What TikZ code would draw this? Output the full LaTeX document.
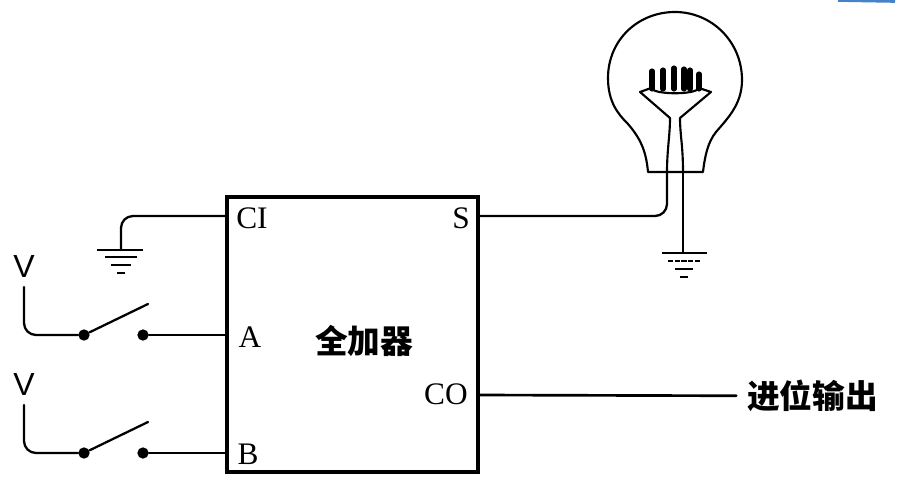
\documentclass[tikz,border=0pt]{standalone}
\usepackage{fontspec}
\setmainfont{Liberation Serif}
\setsansfont{Liberation Sans}
\newfontfamily\cjk{Noto Sans CJK SC}
\usetikzlibrary{positioning}
\definecolor{scanblue}{rgb}{0.27,0.51,0.78}
\tikzset{
  wire/.style={line width=1.7pt,line cap=round},
  thinwire/.style={line width=1.6pt,line cap=round,line join=round},
  rwire/.style={wire,rounded corners=9pt},
  gndbar/.style={line width=1.4pt},
  contact/.style={circle,fill=black,inner sep=0pt,minimum size=8.5pt},
  pinlabel/.style={font=\fontsize{23.5}{24}\selectfont,inner sep=0pt},
  vlabel/.style={font=\sffamily\fontsize{24}{24}\selectfont,inner sep=0pt},
  cjklabel/.style={font=\cjk\bfseries\fontsize{24.5}{25}\selectfont,inner sep=0pt}
}
\begin{document}
\begin{tikzpicture}[x=0.75pt,y=0.75pt,yscale=-1,xscale=1]
\useasboundingbox (0,0) rectangle (913,499);

%Box
\node (adder) [draw,line width=2.3pt,minimum width=188.25pt,minimum height=206.25pt] at (352.5,334.5) {};
\node (adderlabel) [cjklabel] at (364,341) {全加器};

%Pins
\coordinate (pinCI) at (227,216);
\coordinate (pinA) at (227,335);
\coordinate (pinB) at (227,453);
\coordinate (pinS) at (478,216);
\coordinate (pinCO) at (478,395);
\node (labelCI) [pinlabel] at (252,218) {CI};
\node (labelA) [pinlabel] at (250,337) {A};
\node (labelB) [pinlabel] at (248,454) {B};
\node (labelS) [pinlabel] at (461,218) {S};
\node (labelCO) [pinlabel] at (446,394) {CO};

%Switch A
\node (voltA) [vlabel] at (24,266.5) {V};
\coordinate (feedA) at (24,287);
\node (swAl) [contact] at (84,335) {};
\node (swAr) [contact] at (143,335) {};
\coordinate (armA) at (148,304);
\draw [rwire] (feedA) |- (swAl);
\draw [wire] (swAl) -- (armA);
\draw [wire] (swAr) -- (pinA);

%Switch B
\node (voltB) [vlabel] at (24,384.5) {V};
\coordinate (feedB) at (24,405);
\node (swBl) [contact] at (84,453) {};
\node (swBr) [contact] at (143,453) {};
\coordinate (armB) at (148,422);
\draw [rwire] (feedB) |- (swBl);
\draw [wire] (swBl) -- (armB);
\draw [wire] (swBr) -- (pinB);

%Ground of CI
\coordinate (gndA) at (121,250);
\draw [rwire] (pinCI) -| (gndA);
\draw [gndbar] (97,250) -- (143,250);
\draw [gndbar] (105,257) -- (137,257);
\draw [gndbar] (111,265) -- (131,265);
\draw [gndbar] (117,273) -- (125,273);

%Lamp glass
\draw [thinwire] (648,172) .. controls (646,150) and (640,138) .. (628,124) .. controls (618,114) and (608,102) .. (608,78) .. controls (608,40) and (638,12) .. (675,12) .. controls (712,12) and (742,42) .. (742,80) .. controls (742,104) and (728,118) .. (716,132) .. controls (708,142) and (705,155) .. (703,172) -- cycle;

%Lamp filament
\draw [thinwire] (667,172) .. controls (667,150) and (670,135) .. (670,118) -- (640,92) -- (651,88);
\draw [thinwire] (683,172) .. controls (683,145) and (680,135) .. (680,118) -- (711,92) -- (699,88);
\draw [thinwire] (651,88) .. controls (654,95) and (696,95) .. (699,88);
\foreach \xa/\ya in {652/71,663/70,674/68,684/69,690/70,699/74}
  \draw [line width=3.8pt,line cap=round] (\xa,\ya) -- (\xa,89);

%Lamp wires
\coordinate (lampin) at (667,172);
\coordinate (lampout) at (683,172);
\coordinate (gndB) at (683,253);
\draw [rwire] (pinS) -| (lampin);
\draw [wire] (lampout) -- (gndB);
\draw [gndbar] (662,253) -- (707,253);
\draw [gndbar,dash pattern=on 4pt off 1pt] (668,261) -- (701,261);
\draw [gndbar] (675,269) -- (693,269);
\draw [gndbar] (680,277) -- (688,277);

%Carry out
\node (carry) [cjklabel,anchor=west] at (747,396) {进位输出};
\draw [wire,line width=2pt,shorten >=8pt] (pinCO) -- (carry);

%Scan mark
\draw [scanblue,line width=2pt] (838,0.5) -- (895,1.5);
\end{tikzpicture}
\end{document}
